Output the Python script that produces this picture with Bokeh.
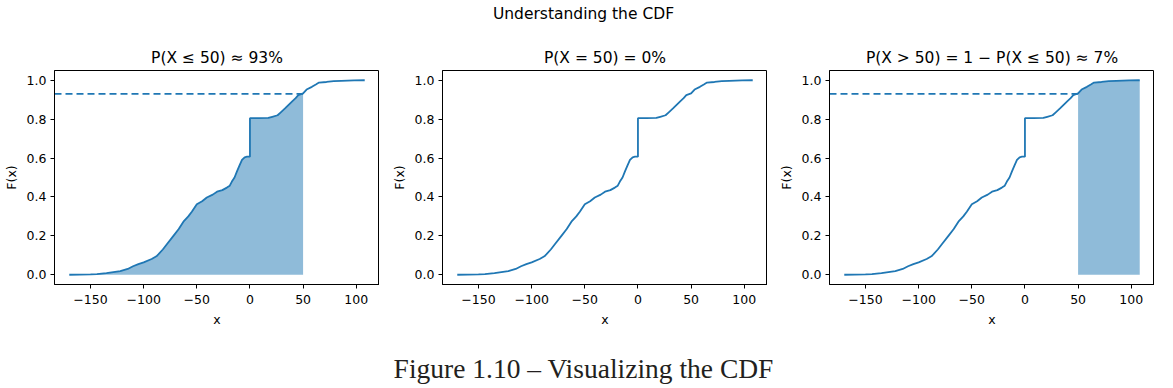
from bokeh.plotting import figure
from bokeh.models import Range1d, FixedTicker, NumeralTickFormatter, Div
from bokeh.layouts import row, column
from bokeh.embed import file_html
from bokeh.resources import INLINE

x_vals = [-170, -160, -150, -144, -135, -122, -115, -110, -105, -100, -92.5, -88, -86, -82, -78,
          -72, -67, -62.6, -58, -54.7, -50, -45, -40.6, -35, -31, -26, -21.7, -19, -17, -14.5,
          -12.3, -10, -7.5, -5, -2.8, 0, 0, 8, 17.3, 21, 26, 29, 33, 37.6, 40, 43, 45.5, 50,
          53.3, 58.3, 62, 65, 72, 78.8, 86, 98, 108]
F_vals = [0.0, 0.001, 0.002, 0.003, 0.008, 0.019, 0.03, 0.044, 0.055, 0.064, 0.081, 0.095, 0.106,
          0.13, 0.158, 0.20, 0.235, 0.273, 0.30, 0.324, 0.362, 0.378, 0.397, 0.412, 0.427, 0.435,
          0.448, 0.458, 0.479, 0.50, 0.53, 0.56, 0.59, 0.604, 0.607, 0.607, 0.805, 0.805, 0.806,
          0.812, 0.82, 0.835, 0.855, 0.88, 0.893, 0.908, 0.923, 0.932, 0.952, 0.966, 0.978, 0.988,
          0.991, 0.995, 0.997, 0.999, 1.0]
threshold = 50
p_le_threshold = 0.93

titles = ["P(X ≤ 50) ≈ 93%", "P(X = 50) = 0%", "P(X > 50) = 1 − P(X ≤ 50) ≈ 7%"]
suptitle = "Understanding the CDF"
caption = "Figure 1.10 – Visualizing the CDF"
x_ticks = [-150, -100, -50, 0, 50, 100]
x_tick_labels = ["−150", "−100", "−50", "0", "50", "100"]
y_ticks = [0.0, 0.2, 0.4, 0.6, 0.8, 1.0]

C0 = "#1f77b4"
FONT = "DejaVu Sans"

xmin, xmax = min(x_vals), max(x_vals)
pad = 0.05 * (xmax - xmin)
x_lo, x_hi = xmin - pad, xmax + pad


def make_fig(title, left, right, mode):
    p = figure(frame_width=325, frame_height=214, output_backend="svg", toolbar_location=None,
               x_range=Range1d(x_lo, x_hi), y_range=Range1d(-0.05, 1.05),
               min_border_left=left, min_border_right=right, min_border_top=40,
               min_border_bottom=70, title=title)
    p.title.text_font = FONT
    p.title.text_font_size = "15.5px"
    p.title.text_font_style = "normal"
    p.title.align = "center"
    p.title.text_color = "#000000"
    p.title.standoff = 7
    p.grid.visible = False
    p.outline_line_color = "#000000"
    p.outline_line_width = 1
    p.background_fill_color = "white"
    p.border_fill_color = "white"
    for ax in (p.xaxis[0], p.yaxis[0]):
        ax.axis_line_color = "#000000"
        ax.major_tick_line_color = "#000000"
        ax.major_tick_in = 0
        ax.major_tick_out = 4
        ax.minor_tick_line_color = None
        ax.major_label_text_font = FONT
        ax.major_label_text_font_size = "12.5px"
        ax.major_label_text_color = "#000000"
        ax.axis_label_text_font = FONT
        ax.axis_label_text_font_size = "12.5px"
        ax.axis_label_text_font_style = "normal"
        ax.axis_label_text_color = "#000000"
        ax.major_label_standoff = 4
        ax.axis_label_standoff = 5
    p.xaxis.major_label_standoff = 6
    p.xaxis.axis_label_standoff = 5
    p.xaxis.ticker = FixedTicker(ticks=x_ticks)
    p.xaxis.major_label_overrides = {t: l for t, l in zip(x_ticks, x_tick_labels)}
    p.yaxis.ticker = FixedTicker(ticks=y_ticks)
    p.yaxis.formatter = NumeralTickFormatter(format="0.0")
    p.xaxis.axis_label = "x"
    p.yaxis.axis_label = "F(x)"

    if mode == "le":
        xs = [x for x in x_vals if x <= threshold]
        ys = F_vals[:len(xs)]
        p.varea(x=xs, y1=[0] * len(xs), y2=ys, fill_color=C0, fill_alpha=0.5)
    elif mode == "gt":
        idx = [i for i, x in enumerate(x_vals) if x >= threshold]
        xs = [x_vals[i] for i in idx]
        ys = [F_vals[i] for i in idx]
        p.varea(x=xs, y1=[0] * len(xs), y2=ys, fill_color=C0, fill_alpha=0.5)
    if mode in ("le", "gt"):
        p.segment(x0=[x_lo], y0=[p_le_threshold], x1=[threshold], y1=[p_le_threshold],
                  line_color=C0, line_width=1.8, line_dash="7 4")
    p.line(x_vals, F_vals, line_color=C0, line_width=1.8)
    return p


p1 = make_fig(titles[0], 47, 0, "le")
p2 = make_fig(titles[1], 63, 0, "eq")
p3 = make_fig(titles[2], 62, 0, "gt")

top = Div(text=suptitle, width=1157, height=20,
          styles={"font-family": FONT, "font-size": "15.5px", "text-align": "center",
                  "line-height": "18px", "color": "#000000", "width": "1157px"})
bottom = Div(text=caption, width=1157, height=26,
             styles={"font-family": "Liberation Serif", "font-size": "27.5px", "text-align": "center",
                     "line-height": "19px", "color": "#231f20", "width": "1157px"})

layout = column(top, row(p1, p2, p3), bottom)
open("out.html", "w").write(file_html(layout, INLINE))
